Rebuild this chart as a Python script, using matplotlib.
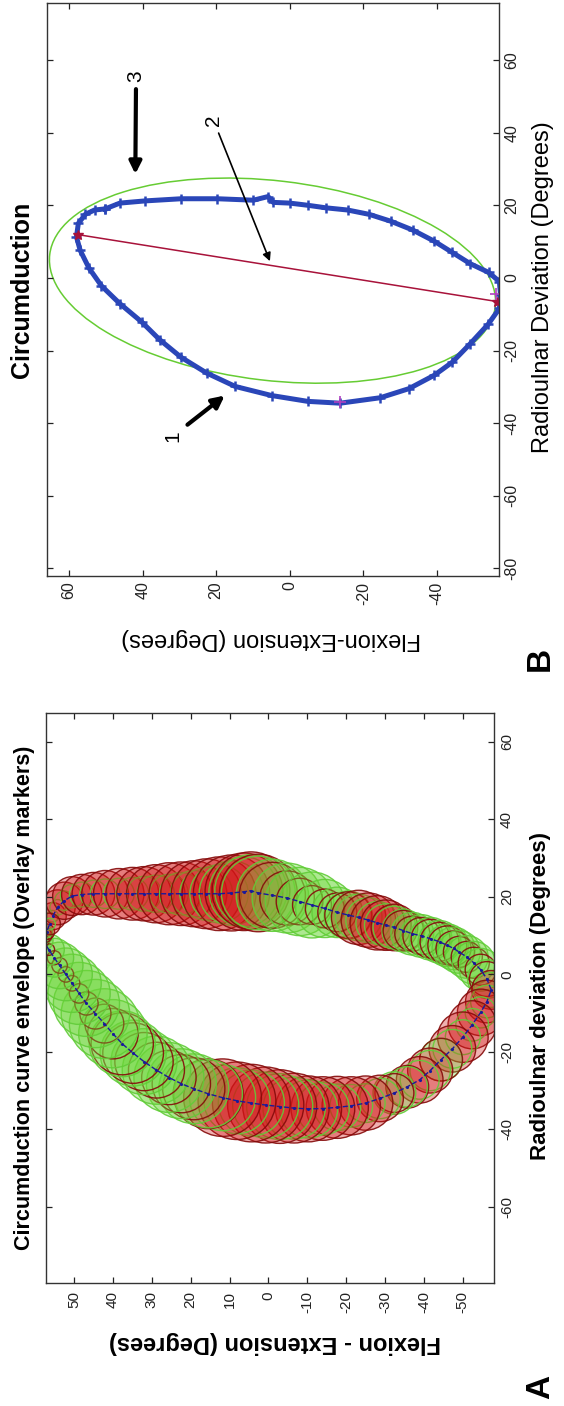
# circumduction figure, drawn in its rotated (portrait) page orientation
import matplotlib
matplotlib.use("Agg")

import matplotlib.pyplot as plt
import matplotlib.patches as patches
from matplotlib import font_manager

plt.rcParams["font.family"] = ["Liberation Sans", "DejaVu Sans"]
plt.rcParams["axes.unicode_minus"] = False

_names = {f.name for f in font_manager.fontManager.ttflist}
NARROW = "Liberation Sans Narrow" if "Liberation Sans Narrow" in _names else "Liberation Sans"

# ======================
# Data (flexion, radioulnar deviation in degrees)
# ======================

# Panel A: mean path and the two envelope radii (green / red overlay markers)
a_flex = [55.5, 54.2, 52.5, 50.5, 48.0, 45.0, 42.0, 38.5, 35.0, 32.0,
          29.0, 25.6, 22.5, 19.2, 16.0, 12.7, 9.5, 6.3, 4.5, 2.6,
          -1.0, -4.8, -8.0, -11.2, -14.5, -17.7, -20.5, -23.2, -25.7, -28.0,
          -30.2, -32.4, -34.7, -37.0, -39.4, -41.7, -44.0, -46.0, -47.6, -49.0,
          -51.0, -52.8, -54.6, -56.2, -57.3,
          -56.2, -54.6, -52.4, -50.0, -47.3, -44.4, -41.6, -38.9, -35.7, -32.4,
          -28.7, -25.0, -21.3, -17.7, -14.0, -10.3, -6.6, -2.9, 0.7, 4.4,
          8.1, 11.8, 15.5, 19.2, 22.4, 25.6, 28.8, 32.0, 34.8, 37.6,
          40.0, 42.2, 44.5, 46.8, 48.7, 50.5, 52.1, 53.7, 55.1, 56.5,
          57.9, 57.5, 57.0, 56.3]
a_radial = [15.0, 17.3, 19.0, 20.2, 20.6, 20.8, 20.8, 20.8, 20.8, 20.8,
            20.8, 20.8, 20.8, 20.8, 20.8, 20.8, 21.0, 21.3, 21.6, 21.0,
            20.4, 19.7, 18.8, 17.9, 17.0, 16.0, 15.3, 14.7, 14.0, 13.3,
            12.7, 12.1, 11.3, 10.5, 9.9, 9.2, 8.4, 7.5, 6.7, 5.8,
            4.5, 3.0, 1.2, -1.2, -4.0,
            -7.0, -9.8, -13.0, -16.2, -19.2, -22.0, -24.8, -27.2, -29.0, -30.6,
            -32.0, -33.2, -33.9, -34.3, -34.6, -34.7, -34.5, -34.1, -33.7, -33.2,
            -32.6, -31.8, -30.8, -29.5, -28.2, -26.6, -24.7, -22.5, -20.3, -17.9,
            -15.3, -12.7, -10.1, -7.5, -4.9, -2.3, 0.0, 2.3, 4.3, 6.4,
            8.7, 10.0, 11.0, 13.0]
a_green_r = [1.5, 2.0, 2.5, 3.0, 3.2, 3.5, 3.8, 4.0, 4.2, 4.5,
             4.8, 5.0, 5.5, 6.0, 6.8, 7.5, 8.3, 9.0, 9.3, 9.5,
             9.3, 9.0, 8.8, 8.5, 7.5, 6.5, 6.2, 6.0, 5.8, 5.5,
             5.5, 5.5, 5.5, 5.5, 5.5, 5.5, 5.5, 5.5, 5.5, 5.5,
             5.5, 5.5, 5.5, 5.0, 4.5,
             4.2, 4.0, 4.2, 4.5, 5.0, 5.5, 5.2, 5.0, 5.2, 5.5,
             5.2, 5.0, 5.5, 6.0, 6.8, 7.5, 8.0, 8.5, 8.5, 8.5,
             8.5, 8.5, 8.8, 9.0, 9.0, 9.0, 8.8, 8.5, 8.5, 8.5,
             8.8, 9.0, 8.8, 8.5, 8.0, 7.5, 6.8, 6.0, 5.0, 4.0,
             2.5, 2.0, 1.5, 1.5]
a_red_r = [3.5, 4.5, 4.8, 5.0, 5.2, 5.5, 6.0, 6.5, 6.8, 7.0,
           7.5, 8.0, 8.2, 8.5, 9.0, 9.5, 9.8, 10.0, 10.0, 10.0,
           8.5, 7.0, 6.0, 5.0, 5.0, 5.0, 6.0, 7.0, 7.0, 7.0,
           6.5, 6.0, 5.2, 4.5, 4.8, 5.0, 5.0, 5.0, 4.5, 4.0,
           4.0, 4.0, 4.0, 4.5, 5.0,
           5.5, 6.0, 6.2, 6.5, 6.0, 5.5, 5.8, 6.0, 5.5, 5.0,
           6.0, 7.0, 7.5, 8.0, 8.2, 8.5, 9.0, 9.5, 9.8, 10.0,
           10.0, 10.0, 9.0, 8.0, 7.5, 7.0, 7.2, 7.5, 7.8, 8.0,
           6.5, 5.0, 4.0, 3.0, 2.5, 2.0, 2.0, 2.0, 1.8, 1.5,
           1.5, 1.8, 2.0, 2.8]
a_flex_ticks = [50, 40, 30, 20, 10, 0, -10, -20, -30, -40, -50]
a_radial_ticks = [-60, -40, -20, 0, 20, 40, 60]

# Panel B: recorded circumduction path
b_flex = [50.2, 46.2, 39.4, 29.5, 19.7, 9.9, 5.9, 4.5, 0.0, -4.9,
          -9.8, -15.7, -21.6, -27.5, -33.4, -39.3, -44.2, -49.1, -54.1, -57.0,
          -57.3, -57.0, -54.0, -49.0, -44.2, -39.3, -32.4, -24.6, -13.7, -4.9,
          4.9, 14.8, 22.6, 29.5, 35.4, 40.3, 46.2, 51.2, 54.6, 57.0,
          58.0, 57.5, 55.6, 53.1, 50.2]
b_radial = [19.0, 20.6, 21.2, 21.8, 21.8, 21.4, 22.4, 20.8, 20.6, 20.0,
            19.3, 18.7, 17.5, 15.6, 13.2, 10.1, 7.0, 3.9, 1.5, -1.0,
            -4.7, -8.4, -12.7, -18.2, -23.2, -26.8, -30.5, -33.0, -34.5, -34.0,
            -32.4, -29.9, -26.2, -21.9, -17.0, -12.1, -7.1, -2.2, 2.7, 7.6,
            11.3, 15.0, 17.5, 18.7, 19.0]
# fitted ellipse (flexion, radioulnar)
ellipse_center = (4.7, -0.75)
ellipse_size = (122.0, 55.0)
ellipse_angle = 6.8
# major axis line and extreme points
axis_flex = [57.5, -56.3]
axis_radial = [11.9, -6.5]
extreme_flex = [-13.7, -56.0]
extreme_radial = [-34.2, -4.5]
arrow_labels = ["1", "2", "3"]
arrow_tip = [(17.7, -32.4), (5.4, 4.6), (42.0, 28.6)]
arrow_txt = [(31.7, -43.5), (20.7, 43.3), (41.8, 55.5)]
b_flex_ticks = [60, 40, 20, 0, -20, -40]
b_radial_ticks = [-80, -60, -40, -20, 0, 20, 40, 60]

# ======================
# Helpers
# ======================

def style_axes(ax, xticks, yticks, size):
    ax.set_xticks(xticks)
    ax.set_yticks(yticks)
    ax.tick_params(direction="in", length=4.5, width=0.9, top=True, bottom=True,
                   left=True, right=True, labelleft=False, labeltop=False,
                   labelright=True, labelbottom=True, labelsize=size, colors="#222222")
    ax.tick_params(axis="x", labelrotation=90)
    ax.tick_params(axis="y", labelrotation=90)
    for lbl in ax.get_yticklabels():
        lbl.set_va("center")
    for s in ax.spines.values():
        s.set_linewidth(1.0)
        s.set_color("#333333")

def ring(ax, xy, rad, color, edge, filled):
    if filled:
        ax.add_patch(patches.Circle(xy, rad, facecolor=color, alpha=0.33, edgecolor="none"))
    ax.add_patch(patches.Circle(xy, rad, facecolor="none", edgecolor=edge, lw=1.0, alpha=0.9))

# ======================
# Figure
# ======================

fig = plt.figure(figsize=(5.64, 14.06), dpi=100)

# ---------- Panel A ----------
axA = fig.add_axes([0.0816, 0.0875, 0.7949, 0.4056])
axA.set_xlim(57.2, -58.1)
axA.set_ylim(-79.6, 67.5)

GREEN, GREEN_EDGE = (0.42, 0.84, 0.22), (0.38, 0.80, 0.22)
RED, RED_EDGE = (0.82, 0.08, 0.08), (0.52, 0.04, 0.04)
for f, r, rg, rr in zip(a_flex, a_radial, a_green_r, a_red_r):
    # larger marker first so the smaller one stays visible inside it
    if rg >= rr:
        ring(axA, (f, r), rg, GREEN, GREEN_EDGE, True)
        ring(axA, (f, r), rr, RED, RED_EDGE, False)
    else:
        ring(axA, (f, r), rr, RED, RED_EDGE, True)
        ring(axA, (f, r), rg, GREEN, GREEN_EDGE, False)
axA.plot(a_flex, a_radial, color="#1a1a9a", lw=1.0, ls="--", marker=".", ms=2.5)

style_axes(axA, a_flex_ticks, a_radial_ticks, 11)
axA.yaxis.set_tick_params(pad=4)
axA.xaxis.set_tick_params(pad=6)

fig.text(0.0443, 0.2902, "Circumduction curve envelope (Overlay markers)", rotation=90,
         ha="center", va="center", fontsize=15.5, weight="bold")
fig.text(0.959, 0.2916, "Radioulnar deviation (Degrees)", rotation=90,
         ha="center", va="center", fontsize=16, weight="bold")
fig.text(0.4876, 0.0455, "Flexion - Extension (Degrees)", rotation=180,
         ha="center", va="center", fontsize=17, weight="bold", family=NARROW)
fig.text(0.958, 0.0135, "A", rotation=90, ha="center", va="center", fontsize=24, weight="bold")

# ---------- Panel B ----------
axB = fig.add_axes([0.0828, 0.5903, 0.8020, 0.4073])
axB.set_xlim(66.1, -56.9)
axB.set_ylim(-82.1, 75.6)

axB.add_patch(patches.Ellipse(ellipse_center, ellipse_size[0], ellipse_size[1],
                              angle=ellipse_angle, fill=False, edgecolor="#66cc33", lw=1.1))
axB.plot(b_flex, b_radial, color="#2a46b8", lw=3.6, marker="+", ms=7, mew=1.8)
axB.plot(axis_flex, axis_radial, color="#a8123a", lw=1.1, marker="*", ms=7)
axB.plot(extreme_flex, extreme_radial, ls="none", marker="+", ms=8, mew=1.2, color="#b040c0")

for lab, tip, txt in zip(arrow_labels, arrow_tip, arrow_txt):
    thick = lab != "2"
    axB.annotate(lab, xy=tip, xytext=txt, rotation=90, ha="center", va="center", fontsize=15,
                 arrowprops=dict(arrowstyle="-|>", color="black", lw=3.0 if thick else 1.2,
                                 mutation_scale=18 if thick else 12, shrinkA=3, shrinkB=0))

style_axes(axB, b_flex_ticks, b_radial_ticks, 11.5)
axB.yaxis.set_tick_params(pad=4)
axB.xaxis.set_tick_params(pad=4)

fig.text(0.039, 0.7937, "Circumduction", rotation=90, ha="center", va="center",
         fontsize=18, weight="bold")
fig.text(0.962, 0.7959, "Radioulnar Deviation (Degrees)", rotation=90,
         ha="center", va="center", fontsize=17)
fig.text(0.4805, 0.5455, "Flexion-Extension (Degrees)", rotation=180,
         ha="center", va="center", fontsize=17)
fig.text(0.958, 0.531, "B", rotation=90, ha="center", va="center", fontsize=24, weight="bold")

fig.savefig("out.png", dpi=100)
plt.close(fig)
